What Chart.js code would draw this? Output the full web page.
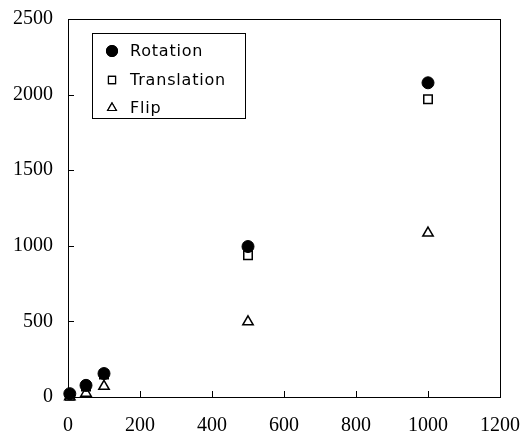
<!DOCTYPE html>
<html>
<head>
<meta charset="utf-8">
<script src="https://cdn.jsdelivr.net/npm/chart.js@4"></script>
<style>
  html, body { margin: 0; padding: 0; background: #fff; }
  #wrap { width: 521px; height: 435px; position: relative; }
</style>
</head>
<body>
<div id="wrap"><canvas id="chart"></canvas></div>
<script>
// datos
const xValues = [5, 50, 100, 500, 1000];
const rotation = [22, 77, 155, 995, 2078];
const translation = [8, 70, 148, 938, 1970];
const flip = [2, 25, 71, 497, 1084];
const seriesNames = ['Rotation', 'Translation', 'Flip'];

const toPts = arr => arr.map((v, i) => ({ x: xValues[i], y: v }));

// marco, ticks hacia adentro y leyenda con recuadro
const framePlugin = {
  id: 'frame',
  afterDraw(chart) {
    const { ctx, chartArea: a, scales } = chart;
    ctx.save();
    ctx.strokeStyle = '#000';
    ctx.lineWidth = 1;
    ctx.strokeRect(Math.round(a.left) + 0.5, Math.round(a.top) + 0.5,
      Math.round(a.right - a.left), Math.round(a.bottom - a.top));
    ctx.beginPath();
    scales.x.ticks.forEach(t => {
      const px = Math.round(scales.x.getPixelForValue(t.value)) + 0.5;
      ctx.moveTo(px, a.bottom);
      ctx.lineTo(px, a.bottom - 6);
    });
    scales.y.ticks.forEach(t => {
      const py = Math.round(scales.y.getPixelForValue(t.value)) + 0.5;
      ctx.moveTo(a.left, py);
      ctx.lineTo(a.left + 6, py);
    });
    ctx.stroke();

    // leyenda
    ctx.strokeRect(92.5, 33.5, 153, 85);
    ctx.font = '16px "DejaVu Sans"';
    ctx.letterSpacing = '0.8px';
    ctx.fillStyle = '#000';
    ctx.textBaseline = 'middle';
    const rows = [51, 80, 108];
    chart.data.datasets.forEach((ds, i) => {
      Chart.helpers.drawPoint(ctx, {
        pointStyle: ds.pointStyle,
        radius: ds.pointStyle === 'circle' ? 5.5 : 5,
        rotation: 0,
        borderWidth: 1.2
      }, 112, rows[i]);
      ctx.fillStyle = ds.pointBackgroundColor;
      ctx.strokeStyle = '#000';
      ctx.lineWidth = 1.2;
      ctx.fill();
      ctx.stroke();
      ctx.fillStyle = '#000';
      ctx.fillText(ds.label, 130, rows[i] + 1);
    });
    ctx.restore();
  }
};

new Chart(document.getElementById('chart'), {
  type: 'scatter',
  data: {
    datasets: [
      { label: seriesNames[0], data: toPts(rotation), pointStyle: 'circle', pointRadius: 6,
        pointBackgroundColor: '#000', pointBorderColor: '#000', pointBorderWidth: 1, clip: false },
      { label: seriesNames[1], data: toPts(translation), pointStyle: 'rect', pointRadius: 6,
        pointBackgroundColor: '#fff', pointBorderColor: '#000', pointBorderWidth: 1.5, clip: false },
      { label: seriesNames[2], data: toPts(flip), pointStyle: 'triangle', pointRadius: 6,
        pointBackgroundColor: '#fff', pointBorderColor: '#000', pointBorderWidth: 1.5, clip: false }
    ]
  },
  options: {
    responsive: true,
    maintainAspectRatio: false,
    animation: false,
    layout: { padding: { left: 0, right: 21, top: 19, bottom: 0 } },
    plugins: { legend: { display: false }, tooltip: { enabled: false } },
    scales: {
      x: {
        type: 'linear', min: 0, max: 1200,
        afterFit: s => { s.height = 38; s.paddingRight = 0; s.paddingLeft = 0; },
        grid: { display: false, drawTicks: false },
        border: { display: false },
        ticks: { stepSize: 200, padding: 17, color: '#000', maxRotation: 0,
          callback: v => String(v),
          font: { family: '"Liberation Serif"', size: 20 } }
      },
      y: {
        min: 0, max: 2500,
        afterFit: s => { s.width = 68; s.paddingTop = 0; s.paddingBottom = 0; },
        grid: { display: false, drawTicks: false },
        border: { display: false },
        ticks: { stepSize: 500, padding: 15, color: '#000',
          callback: v => String(v),
          font: { family: '"Liberation Serif"', size: 20 } }
      }
    }
  },
  plugins: [framePlugin]
});
</script>
</body>
</html>
